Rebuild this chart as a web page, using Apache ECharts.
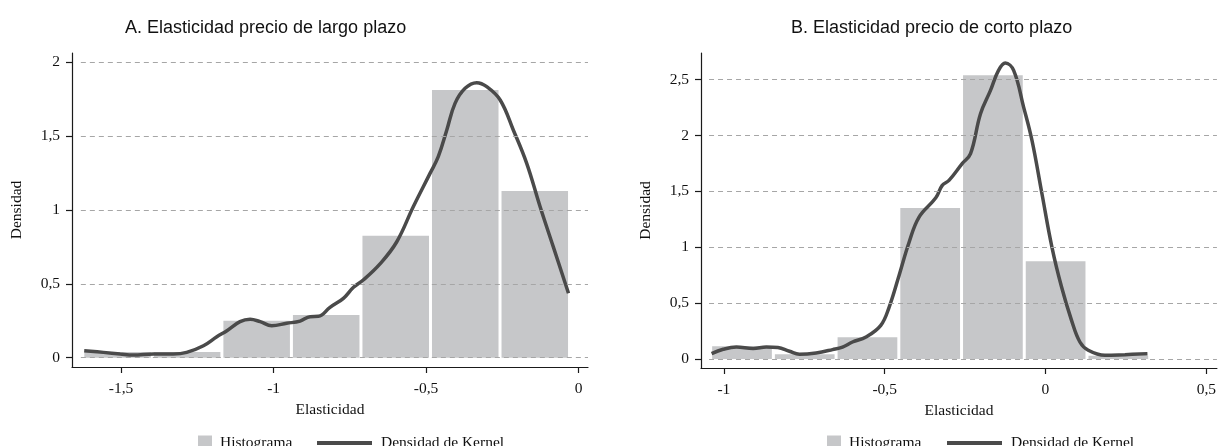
<!DOCTYPE html>
<html>
<head>
<meta charset="utf-8">
<script src="https://cdn.jsdelivr.net/npm/echarts@6/dist/echarts.min.js"></script>
<style>
  html, body { margin: 0; padding: 0; background: #fff; }
  #chart { width: 1219px; height: 446px; }
</style>
</head>
<body>
<div id="chart"></div>
<script>
// Panel A: long-run price elasticity
const edgesA = [-1.6255, -1.3975, -1.1695, -0.9415, -0.7135, -0.4855, -0.2575, -0.0295];
const histA = [0.039, 0.039, 0.25, 0.289, 0.826, 1.812, 1.129];
const kernelA = [
  [-1.621, 0.047], [-1.558, 0.036], [-1.503, 0.025], [-1.460, 0.018], [-1.394, 0.025],
  [-1.329, 0.025], [-1.285, 0.036], [-1.230, 0.081], [-1.186, 0.142], [-1.153, 0.183],
  [-1.110, 0.244], [-1.077, 0.260], [-1.044, 0.244], [-1.006, 0.217], [-0.957, 0.233],
  [-0.913, 0.248], [-0.880, 0.278], [-0.853, 0.280], [-0.815, 0.341], [-0.771, 0.402],
  [-0.738, 0.477], [-0.706, 0.526], [-0.651, 0.635], [-0.596, 0.785], [-0.542, 1.022],
  [-0.487, 1.248], [-0.460, 1.361], [-0.432, 1.542], [-0.405, 1.722], [-0.372, 1.824],
  [-0.334, 1.862], [-0.301, 1.835], [-0.257, 1.745], [-0.214, 1.542], [-0.170, 1.316],
  [-0.126, 1.022], [-0.083, 0.752], [-0.033, 0.436]
];
const xTicksA = [-1.5, -1, -0.5, 0];
const yTicksA = [0, 0.5, 1, 1.5, 2];

// Panel B: short-run price elasticity
const edgesB = [-1.041, -0.846, -0.651, -0.456, -0.261, -0.066, 0.129, 0.324];
const histB = [0.114, 0.042, 0.194, 1.351, 2.538, 0.875, 0.03];
const kernelB = [
  [-1.038, 0.048], [-1.002, 0.087], [-0.961, 0.107], [-0.909, 0.093], [-0.868, 0.107],
  [-0.832, 0.102], [-0.796, 0.069], [-0.765, 0.042], [-0.713, 0.054], [-0.662, 0.084],
  [-0.631, 0.107], [-0.600, 0.152], [-0.558, 0.197], [-0.512, 0.301], [-0.486, 0.465],
  [-0.455, 0.750], [-0.424, 1.045], [-0.393, 1.270], [-0.341, 1.442], [-0.321, 1.554],
  [-0.300, 1.598], [-0.259, 1.748], [-0.233, 1.837], [-0.202, 2.195], [-0.171, 2.403],
  [-0.146, 2.582], [-0.125, 2.648], [-0.099, 2.582], [-0.068, 2.254], [-0.042, 1.956],
  [-0.011, 1.479], [0.020, 1.002], [0.050, 0.644], [0.081, 0.346], [0.107, 0.152],
  [0.133, 0.078], [0.185, 0.033], [0.247, 0.039], [0.317, 0.048]
];
const xTicksB = [-1, -0.5, 0, 0.5];
const yTicksB = [0, 0.5, 1, 1.5, 2, 2.5];

const titles = ['A. Elasticidad precio de largo plazo', 'B. Elasticidad precio de corto plazo'];
const xName = 'Elasticidad';
const yName = 'Densidad';
const histName = 'Histograma';
const kernelName = 'Densidad de Kernel';

const SERIF = '"Liberation Serif", "DejaVu Serif", serif';
const SANS = '"Liberation Sans", Arial, sans-serif';
const BAR_COLOR = '#c6c7c9';
const LINE_COLOR = '#4a4a4a';
const AXIS_COLOR = '#1a1a1a';
const TEXT_SIZE = 15.5;

const fmt = v => String(v).replace('.', ',');

function binRows(edges, heights) {
  return heights.map((h, i) => [edges[i], edges[i + 1], h]);
}

function renderBin(params, api) {
  const p0 = api.coord([api.value(0), api.value(2)]);
  const p1 = api.coord([api.value(1), 0]);
  const inset = 1.5;
  return {
    type: 'rect',
    shape: { x: p0[0] + inset, y: p0[1], width: p1[0] - p0[0] - 2 * inset, height: p1[1] - p0[1] },
    style: { fill: BAR_COLOR }
  };
}

function xAxisOf(gridIndex, min, max, ticks) {
  return {
    type: 'value', gridIndex, min, max,
    name: xName, nameLocation: 'middle', nameGap: 32,
    nameTextStyle: { fontFamily: SERIF, fontSize: TEXT_SIZE, color: '#111' },
    axisLine: { show: true, onZero: false, lineStyle: { color: AXIS_COLOR, width: 1.2 } },
    axisTick: { show: true, length: 6, customValues: ticks, lineStyle: { color: AXIS_COLOR, width: 1.2 } },
    axisLabel: { customValues: ticks, formatter: fmt, margin: 14, fontFamily: SERIF, fontSize: TEXT_SIZE, color: '#111' },
    splitLine: { show: false }
  };
}

function yAxisOf(gridIndex, min, max, ticks) {
  return {
    type: 'value', gridIndex, min, max,
    name: yName, nameLocation: 'middle', nameGap: 47, nameRotate: 90,
    nameTextStyle: { fontFamily: SERIF, fontSize: TEXT_SIZE, color: '#111' },
    axisLine: { show: true, onZero: false, lineStyle: { color: AXIS_COLOR, width: 1.2 } },
    axisTick: { show: true, length: 6, customValues: ticks, lineStyle: { color: AXIS_COLOR, width: 1.2 } },
    axisLabel: { customValues: ticks, formatter: fmt, margin: 12, fontFamily: SERIF, fontSize: TEXT_SIZE, color: '#111' },
    splitLine: { show: false }
  };
}

function gridLines(idx, ticks, x0, x1) {
  return {
    type: 'line', xAxisIndex: idx, yAxisIndex: idx, data: [], z: 1, silent: true,
    markLine: {
      silent: true, symbol: 'none', animation: false, label: { show: false },
      lineStyle: { color: '#a6a6a6', width: 1, type: [5, 4] },
      data: ticks.map(t => [{ coord: [x0, t] }, { coord: [x1, t] }])
    }
  };
}

function legendPair(sqLeft, lineLeft) {
  const text = { fontFamily: SERIF, fontSize: TEXT_SIZE, color: '#111', lineHeight: 15 };
  return [
    { data: [{ name: histName, icon: 'rect', itemStyle: { color: BAR_COLOR, borderWidth: 0 } }],
      left: sqLeft, top: 430, itemWidth: 14, itemHeight: 15,
      textStyle: Object.assign({ padding: [0, 0, 0, 3] }, text), selectedMode: false },
    { data: [{ name: kernelName, icon: 'path://M0,0H55V4H0Z',
               itemStyle: { color: LINE_COLOR, borderWidth: 0, opacity: 1 } }],
      left: lineLeft, top: 430, itemWidth: 55, itemHeight: 4,
      textStyle: Object.assign({ padding: [0, 0, 0, 4] }, text), selectedMode: false }
  ];
}

const chart = echarts.init(document.getElementById('chart'), null, { renderer: 'canvas' });

const titleStyle = { fontFamily: SANS, fontSize: 18, fontWeight: 'normal', color: '#111' };

chart.setOption({
  animation: false,
  backgroundColor: '#ffffff',
  title: [
    { text: titles[0], left: 120, top: 14, textStyle: titleStyle },
    { text: titles[1], left: 786, top: 14, textStyle: titleStyle }
  ],
  legend: legendPair(193, 312).concat(legendPair(822, 942)),
  grid: [
    { left: 72, right: 631, top: 53, bottom: 79 },
    { left: 701, right: 0, top: 53, bottom: 78 }
  ],
  xAxis: [
    xAxisOf(0, -1.661, 0.031, xTicksA),
    xAxisOf(1, -1.071, 0.533, xTicksB)
  ],
  yAxis: [
    yAxisOf(0, -0.063, 2.063, yTicksA),
    yAxisOf(1, -0.0805, 2.738, yTicksB)
  ],
  series: [
    gridLines(0, yTicksA, -1.632, 0.031),
    {
      name: histName, type: 'custom', xAxisIndex: 0, yAxisIndex: 0, z: 2,
      itemStyle: { color: BAR_COLOR }, renderItem: renderBin,
      encode: { x: [0, 1], y: 2 }, data: binRows(edgesA, histA)
    },
    {
      name: kernelName, type: 'line', xAxisIndex: 0, yAxisIndex: 0, z: 3,
      smooth: 0.4, showSymbol: false, symbol: 'none',
      lineStyle: { color: LINE_COLOR, width: 3.5 }, itemStyle: { color: LINE_COLOR },
      data: kernelA
    },
    gridLines(1, yTicksB, -1.046, 0.533),
    {
      name: histName, type: 'custom', xAxisIndex: 1, yAxisIndex: 1, z: 2,
      itemStyle: { color: BAR_COLOR }, renderItem: renderBin,
      encode: { x: [0, 1], y: 2 }, data: binRows(edgesB, histB)
    },
    {
      name: kernelName, type: 'line', xAxisIndex: 1, yAxisIndex: 1, z: 3,
      smooth: 0.4, showSymbol: false, symbol: 'none',
      lineStyle: { color: LINE_COLOR, width: 3.5 }, itemStyle: { color: LINE_COLOR },
      data: kernelB
    }
  ]
});
</script>
</body>
</html>
